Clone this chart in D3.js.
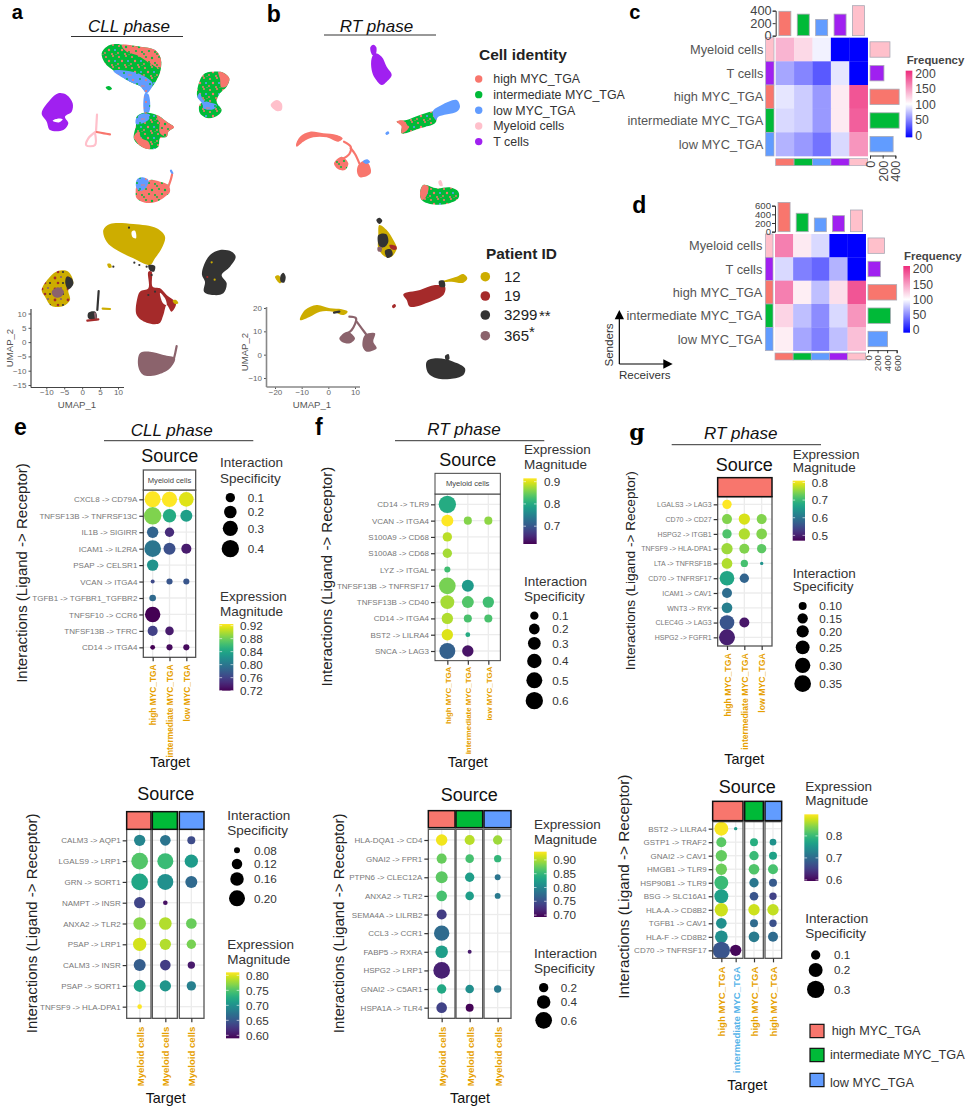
<!DOCTYPE html>
<html><head><meta charset="utf-8">
<script src="https://cdn.jsdelivr.net/npm/d3@7/dist/d3.min.js"></script>
<style>html,body{margin:0;padding:0;background:#fff}svg{display:block}text{font-family:"Liberation Sans",Arial,sans-serif}</style>
</head><body><div id="chart"></div>
<script>
// ---------- shared categories ----------
const cellTypes = ["high MYC_TGA","intermediate MYC_TGA","low MYC_TGA","Myeloid cells","T cells"];
const patientIds = ["12","19","3299","365"];
const heatColsOrder = ["high MYC_TGA","intermediate MYC_TGA","low MYC_TGA","T cells","Myeloid cells"];
const heatRowsOrder = ["Myeloid cells","T cells","high MYC_TGA","intermediate MYC_TGA","low MYC_TGA"];

// ---------- heat maps (c, d): senders in rows, receivers in columns ----------
const freqC = [[135,118,95,0,0],[65,52,35,90,0],[90,80,60,110,180],[85,80,60,110,175],[70,60,45,85,150]];
const freqD = [[160,110,85,0,0],[85,50,40,70,0],[160,108,75,115,180],[120,75,55,85,150],[108,65,50,75,130]];
const topBarsC = [390,345,260,345,480];
const sideBarsC = [315,220,460,460,365];
const topBarsD = [675,425,315,370,500];
const sideBarsD = [345,260,600,470,410];
const freqTicks = [0,50,100,150,200];

// ---------- bubble panels ----------
const e1Rows = ["CXCL8 -> CD79A","TNFSF13B -> TNFRSF13C","IL1B -> SIGIRR","ICAM1 -> IL2RA","PSAP -> CELSR1","VCAN -> ITGA4","TGFB1 -> TGFBR1_TGFBR2","TNFSF10 -> CCR6","TNFSF13B -> TFRC","CD14 -> ITGA4"];
const e1Targets = ["high MYC_TGA","intermediate MYC_TGA","low MYC_TGA"];
const e1Spec = [[.34,.31,.28],[.40,.23,.18],[.16,.10,null],[.37,.18,.12],[.16,null,null],[.0,.03,.03],[.04,null,null],[.31,null,null],[.12,.08,null],[.01,.03,.03]];
const e1Mag = [[.925,.925,.915],[.885,.845,.835],[.785,.745,null],[.80,.77,.735],[.825,null,null],[.765,.775,.775],[.79,null,null],[.72,null,null],[.76,.735,null],[.72,.725,.725]];
const e1SizeTicks = [.1,.2,.3,.4];
const e1MagTicks = [.92,.88,.84,.80,.76,.72];

const e2Rows = ["CALM3 -> AQP1","LGALS9 -> LRP1","GRN -> SORT1","NAMPT -> INSR","ANXA2 -> TLR2","PSAP -> LRP1","CALM3 -> INSR","PSAP -> SORT1","TNFSF9 -> HLA-DPA1"];
const e2Targets = ["Myeloid cells","Myeloid cells","Myeloid cells"];
const e2Spec = [[.13,.122,.095],[.212,.20,.157],[.212,.20,.139],[.13,.072,null],[.148,.148,.122],[.157,.13,.108],[.139,.122,.09],[.139,.13,.108],[.072,null,null]];
const e2Mag = [[.69,.675,.64],[.75,.74,.71],[.72,.70,.665],[.635,.60,null],[.77,.785,.76],[.795,.785,.765],[.655,.63,.605],[.715,.705,.685],[.81,null,null]];
const e2SizeTicks = [.08,.12,.16,.20];
const e2MagTicks = [.80,.75,.70,.65,.60];

const f1Rows = ["CD14 -> TLR9","VCAN -> ITGA4","S100A9 -> CD68","S100A8 -> CD68","LYZ -> ITGAL","TNFSF13B -> TNFRSF17","TNFSF13B -> CD40","CD14 -> ITGA4","BST2 -> LILRA4","SNCA -> LAG3"];
const f1Targets = ["high MYC_TGA","intermediate MYC_TGA","low MYC_TGA"];
const f1Spec = [[.6,null,null],[.26,.09,.09],[.14,null,null],[.14,null,null],[.03,null,null],[.55,.26,null],[.37,.26,.23],[.23,.09,.09],[.23,.0,null],[.5,.23,null]];
const f1Mag = [[.80,null,null],[.915,.86,.865],[.885,null,null],[.875,null,null],[.825,null,null],[.855,.78,null],[.875,.835,.825],[.88,.83,.83],[.90,.80,null],[.71,.635,null]];
const f1SizeTicks = [.1,.2,.3,.4,.5,.6];
const f1MagTicks = [.9,.8,.7];

const f2Rows = ["HLA-DQA1 -> CD4","GNAI2 -> FPR1","PTPN6 -> CLEC12A","ANXA2 -> TLR2","SEMA4A -> LILRB2","CCL3 -> CCR1","FABP5 -> RXRA","HSPG2 -> LRP1","GNAI2 -> C5AR1","HSPA1A -> TLR4"];
const f2Targets = ["Myeloid cells","Myeloid cells","Myeloid cells"];
const f2Spec = [[.29,.23,.2],[.23,.17,.13],[.32,.2,.09],[.255,.17,.09],[.23,null,null],[.51,null,null],[.35,.05,null],[.6,null,null],[.2,.17,.13],[.255,.15,null]];
const f2Mag = [[.925,.905,.895],[.875,.86,.85],[.87,.825,.785],[.86,.825,.79],[.735,null,null],[.775,null,null],[.825,.71,null],[.715,null,null],[.835,.81,.79],[.74,.695,null]];
const f2SizeTicks = [.2,.4,.6];
const f2MagTicks = [.90,.85,.80,.75,.70];

const g1Rows = ["LGALS3 -> LAG3","CD70 -> CD27","HSPG2 -> ITGB1","TNFSF9 -> HLA-DPA1","LTA -> TNFRSF1B","CD70 -> TNFRSF17","ICAM1 -> CAV1","WNT3 -> RYK","CLEC4G -> LAG3","HSPG2 -> FGFR1"];
const g1Targets = ["high MYC_TGA","intermediate MYC_TGA","low MYC_TGA"];
const g1Spec = [[.127,null,null],[.142,.175,.142],[.127,.175,.158],[.175,.142,.127],[.158,.088,.038],[.277,.127,null],[.142,null,null],[.158,null,null],[.277,.142,null],[.324,null,null]];
const g1Mag = [[.81,null,null],[.745,.79,.745],[.715,.77,.745],[.76,.745,.725],[.77,.71,.645],[.67,.58,null],[.59,null,null],[.615,null,null],[.56,.49,null],[.50,null,null]];
const g1SizeTicks = [.10,.15,.20,.25,.30,.35];
const g1MagTicks = [.8,.7,.6,.5];

const g2Rows = ["BST2 -> LILRA4","GSTP1 -> TRAF2","GNAI2 -> CAV1","HMGB1 -> TLR9","HSP90B1 -> TLR9","BSG -> SLC16A1","HLA-A -> CD8B2","TGFB1 -> CAV1","HLA-F -> CD8B2","CD70 -> TNFRSF17"];
const g2Targets = ["high MYC_TGA","intermediate MYC_TGA","high MYC_TGA","high MYC_TGA"];
const g2Spec = [[.2,.029,null,null],[.112,null,.078,.06],[.139,null,.1,.078],[.139,null,.125,.112],[.2,null,.1,.078],[.2,null,.089,.069],[.185,null,.139,.139],[.125,null,.078,.069],[.169,null,.125,.112],[.3,.139,null,null]];
const g2Mag = [[.895,.76,null,null],[.82,null,.785,.75],[.825,null,.80,.77],[.83,null,.815,.81],[.80,null,.715,.68],[.765,null,.675,.655],[.875,null,.875,.87],[.745,null,.70,.67],[.745,null,.72,.70],[.675,.60,null,null]];
const g2SizeTicks = [.1,.2,.3];
const g2MagTicks = [.8,.7,.6];

// ---------- UMAP cluster outlines (reading units: 3 per pixel) ----------
const aIdentityBlobs = [
 ["mixGreen",[[305,160],[320,140],[345,132],[375,135],[420,140],[465,150],[482,175],[482,210],[470,240],[455,262],[440,275],[420,258],[390,245],[345,215],[315,190]]],
 ["mixCoral",[[365,135],[420,140],[465,150],[482,175],[480,205],[450,190],[410,165],[380,155]]],
 ["mixBlue",[[340,212],[380,212],[420,222],[458,250],[452,268],[440,280],[420,258],[390,245]]],
 ["mixBlue",[[435,280],[445,282],[448,335],[434,340]]],
 ["mixGreen",[[410,350],[432,338],[470,345],[500,365],[522,382],[505,395],[500,410],[480,415],[475,440],[455,448],[425,440],[402,418],[408,375]]],
 ["mixCoral",[[470,345],[500,365],[522,382],[505,395],[500,410],[480,400],[478,370]]],
 ["coral",[[402,410],[415,395],[425,415],[445,425],[450,446],[425,440]]],
 ["mixBlue",[[410,352],[432,340],[450,345],[445,360],[420,372],[408,372]]],
 ["mixGreen",[[600,240],[615,220],[640,215],[670,218],[688,235],[680,260],[660,280],[650,305],[665,330],[655,345],[625,355],[600,340],[598,315],[608,305],[592,290]]],
 ["coral",[[655,216],[670,218],[688,235],[680,258],[664,262],[660,236]]],
 ["mixBlue",[[592,290],[600,280],[610,300],[650,315],[640,328],[610,325],[606,310]]],
 ["mixCoral",[[410,560],[425,562],[450,540],[480,545],[505,555],[510,575],[495,590],[470,605],[435,608],[410,595],[407,575]]],
 ["mixBlue",[[410,540],[425,532],[445,540],[440,560],[425,572],[410,565]]],
 ["purple",[[125,340],[150,300],[175,280],[200,285],[218,310],[215,335],[195,350],[205,370],[190,390],[150,390],[140,365]]],
 ["white",[[158,362],[172,356],[188,358],[178,367],[166,366]]],
 ["green",[[317,262],[326,258],[336,266],[326,271]]]
];
const aIdentityLines = [["pink",[[291,344],[288,395]]],["pink",[[286,396],[265,415],[259,436],[285,435],[285,398]]],["coral",[[290,396],[312,400],[330,403]]],["blue",[[513,512],[517,520]]],["coral",[[505,560],[512,540],[516,524]]]];
const aPatientBlobs = [
 ["gold",[[310,690],[330,672],[400,672],[470,685],[495,710],[485,745],[465,775],[450,795],[400,775],[350,750],[320,725]]],
 ["white",[[395,695],[405,692],[408,715],[398,712]]],
 ["dark",[[445,796],[465,798],[462,815],[450,812]]],
 ["brick",[[445,815],[455,815],[458,860],[480,865],[500,885],[528,910],[515,935],[500,915],[490,945],[478,970],[440,968],[410,945],[412,895],[420,875],[445,865]]],
 ["white",[[480,878],[495,895],[500,915],[488,908]]],
 ["gold",[[518,902],[528,900],[535,910],[525,912]]],
 ["mauve",[[420,1060],[450,1055],[490,1065],[525,1075],[510,1105],[470,1125],[430,1125],[415,1100]]],
 ["dark",[[610,800],[630,765],[660,750],[695,755],[707,770],[690,800],[665,825],[680,850],[670,880],[640,885],[612,875],[615,845],[606,825]]],
 ["mixGold",[[125,870],[150,830],[175,812],[205,815],[220,850],[205,870],[210,900],[190,918],[155,918],[135,890]]],
 ["dark",[[200,830],[215,835],[220,852],[205,868],[196,850]]],
 ["mauve",[[155,875],[175,862],[192,875],[180,892],[162,890]]],
 ["dark",[[265,938],[286,935],[290,958],[265,955]]],
 ["gold",[[322,792],[332,792],[335,802],[326,803]]]
];
const aPatientLines = [["dark",[[296,873],[292,930]]],["mauve",[[285,940],[288,958]]],["brick",[[262,962],[295,958]]],["gold",[[308,926],[330,927]]],["mauve",[[522,1075],[526,1058],[530,1038]]]];
const aPatientDots = [["dark",387,683],["dark",403,788],["dark",418,795],["dark",440,800],["dark",455,825],["dark",465,875],["dark",445,885],["gold",635,787],["gold",644,839],["brick",622,831],["dark",340,800]];

const bIdentityBlobs = [
 ["purple",[[335,175],[345,160],[365,170],[380,200],[395,225],[380,245],[365,255],[345,235],[335,210]]],
 ["purple",[[331,142],[340,134],[349,142],[346,165],[337,165]]],
 ["pink",[[32,315],[50,300],[65,310],[65,330],[50,333]]],
 ["mixGreen",[[410,365],[440,360],[480,345],[520,335],[530,355],[525,370],[480,385],[425,400],[425,375]]],
 ["coral",[[410,365],[430,362],[445,385],[425,400],[424,378]]],
 ["blue",[[518,335],[545,315],[590,300],[600,320],[590,335],[535,350],[528,360]]],
 ["blue",[[376,400],[384,394],[388,400],[380,405]]],
 ["coral",[[108,435],[120,410],[150,395],[190,400],[230,405],[248,415],[235,425],[200,412],[160,412],[130,425],[110,440]]],
 ["mixCoral",[[222,490],[245,470],[265,490],[255,510],[235,508]]],
 ["coral",[[295,495],[310,483],[325,490],[332,520],[300,532],[291,515]]],
 ["blue",[[308,484],[322,478],[330,486],[318,492]]],
 ["mixGreen",[[480,580],[490,555],[530,565],[570,562],[595,575],[595,595],[560,612],[510,612],[485,600]]],
 ["coral",[[480,580],[490,555],[505,560],[498,590],[486,600]]],
 ["pink",[[535,545],[542,540],[548,558],[540,558]]]
];
const bIdentityLines = [["coral",[[252,425],[272,440],[268,462],[245,478]]],["coral",[[272,445],[285,462],[298,490]]]];
const bPatientBlobs = [
 ["gold",[[358,675],[380,690],[400,720],[410,745],[395,770],[375,770],[355,745],[355,710]]],
 ["dark",[[349,660],[358,653],[367,662],[358,672]]],
 ["dark",[[355,705],[378,702],[385,725],[372,742],[358,738]]],
 ["dark",[[375,752],[392,748],[398,765],[382,774]]],
 ["brick",[[388,735],[408,738],[410,748],[395,748]]],
 ["mauve",[[353,742],[365,742],[364,755],[354,754]]],
 ["gold",[[45,830],[55,826],[66,842],[60,850]]],
 ["dark",[[62,826],[70,818],[77,830],[72,848],[62,845]]],
 ["brick",[[430,883],[480,870],[525,855],[555,860],[550,885],[510,905],[450,920],[440,900]]],
 ["gold",[[545,845],[590,830],[610,822],[622,835],[610,848],[575,845]]],
 ["dark",[[537,843],[552,842],[555,860],[540,860]]],
 ["brick",[[396,918],[404,912],[408,918],[400,925]]],
 ["gold",[[120,960],[135,930],[170,915],[210,925],[245,928],[263,935],[250,945],[220,935],[180,935],[150,950]]],
 ["mauve",[[238,1015],[262,995],[285,1015],[270,1030],[245,1025]]],
 ["mauve",[[315,1005],[345,1000],[340,1025],[350,1045],[320,1055],[308,1040]]],
 ["dark",[[500,1085],[530,1075],[580,1085],[615,1105],[610,1125],[570,1137],[530,1135],[505,1120]]],
 ["dark",[[555,1068],[565,1062],[568,1078],[558,1080]]]
];
const bPatientLines = [["dark",[[222,938],[238,935]]],["mauve",[[268,950],[288,955],[275,990],[252,1005]]],["mauve",[[290,965],[305,985],[322,1008]]]];

const umapATicksX=[-10,-5,0,5,10], umapATicksY=[10,5,0,-5,-10,-15];
const umapBTicksX=[-20,-10,0,10], umapBTicksY=[20,10,0,-10];
const keyLabels = ["high MYC_TGA","intermediate MYC_TGA","low MYC_TGA"];

// ---------- styles ----------
const cellColor = d3.scaleOrdinal(cellTypes,["#F8766D","#00BA38","#619CFF","#FFC0CB","#A020F0"]);
const patientColor = d3.scaleOrdinal(patientIds,["#CDAD00","#A52A2A","#333333","#8B636C"]);
const fills = {coral:"#F8766D",green:"#00BA38",blue:"#619CFF",pink:"#FFC0CB",purple:"#A020F0",white:"#fff",
  gold:"#CDAD00",brick:"#A52A2A",dark:"#333333",mauve:"#8B636C",
  mixGreen:"url(#mixGreen)",mixCoral:"url(#mixCoral)",mixBlue:"url(#mixBlue)",mixGold:"url(#mixGold)"};
const W=969,H=1110;
const svg=d3.select("#chart").append("svg").attr("width",W).attr("height",H).attr("viewBox",[0,0,W,H]);
const defs=svg.append("defs");
const TXT="#2a2a2a";

// speckle textures
function speckle(id,base,spots){
  const p=defs.append("pattern").attr("id",id).attr("patternUnits","userSpaceOnUse").attr("width",13).attr("height",11);
  p.append("rect").attr("width",13).attr("height",11).attr("fill",base);
  p.selectAll("circle").data(spots).join("circle").attr("cx",d=>d[0]).attr("cy",d=>d[1]).attr("r",d=>d[2]).attr("fill",d=>d[3]);
}
const C="#F8766D",G="#00BA38",B="#619CFF";
speckle("mixGreen",G,[[2,2,1.1,C],[9,1,1,C],[5,6,1.2,C],[11,6,1,B],[1,9,.9,C],[8,10,1,C],[12,11,.7,C]]);
speckle("mixCoral",C,[[3,2,1,G],[9,3,1.2,G],[6,7,1.1,G],[12,8,1,G],[1,10,.9,G]]);
speckle("mixBlue",B,[[3,3,1,C],[10,2,.9,G],[7,7,1,G],[12,9,.8,C],[1,9,.7,C]]);
speckle("mixGold","#CDAD00",[[3,3,1.4,"#A52A2A"],[9,2,1.1,"#8B636C"],[6,8,1.3,"#A52A2A"],[11,8,1.1,"#333"]]);

// text helper
function txt(x,y,s,o={}){
  const t=svg.append("text").attr("x",x).attr("y",y).text(s)
    .attr("font-size",o.size||12).attr("fill",o.color||TXT)
    .attr("text-anchor",o.anchor||"start");
  if(o.bold) t.attr("font-weight","700");
  if(o.italic) t.attr("font-style","italic");
  if(o.family) t.style("font-family",o.family);
  if(o.rotate!=null) t.attr("transform",`rotate(${o.rotate},${x},${y})`);
  return t;
}
// panel letters
[["a",11.7,18.5,20],["b",266.7,21.7,23],["c",629.3,18.5,20],["d",632.3,212.7,23],["e",14,435,23],["f",315,435,23]].forEach(d=>
  txt(d[1],d[2],d[0],{size:d[3],bold:true,color:"#000"}));
txt(629.3,440,"g",{size:22,bold:true,color:"#000",family:'"DejaVu Serif"'});
// phase titles
[["CLL phase",129,32,71,183,36.5,17],["RT phase",376.5,32,324,436,35,17],["CLL phase",171.7,436,104,253.3,440.7,17],["RT phase",464,435,395,544.3,440.7,17],["RT phase",740.7,439.3,671.7,821,444.7,17]].forEach(d=>{
  txt(d[1],d[2],d[0],{size:d[6],italic:true,anchor:"middle",color:"#111"});
  svg.append("line").attr("x1",d[3]).attr("x2",d[4]).attr("y1",d[5]).attr("y2",d[5]).attr("stroke","#333").attr("stroke-width",1);
});

// ---------- UMAP panels ----------
function umap(ox,blobs,lines,dots){
  const x=d3.scaleLinear().domain([0,3]).range([ox,ox+1]);
  const y=d3.scaleLinear().domain([0,3]).range([0,1]);
  const closed=d3.line().x(d=>x(d[0])).y(d=>y(d[1])).curve(d3.curveCatmullRomClosed.alpha(.5));
  const open=d3.line().x(d=>x(d[0])).y(d=>y(d[1])).curve(d3.curveCatmullRom);
  const g=svg.append("g");
  g.selectAll("path.b").data(blobs).join("path").attr("class","b").attr("d",d=>closed(d[1])).attr("fill",d=>fills[d[0]]);
  g.selectAll("path.l").data(lines||[]).join("path").attr("class","l").attr("d",d=>open(d[1])).attr("fill","none").attr("stroke",d=>fills[d[0]]).attr("stroke-width",2.2).attr("stroke-linecap","round");
  g.selectAll("circle").data(dots||[]).join("circle").attr("cx",d=>x(d[1])).attr("cy",d=>y(d[2])).attr("r",1.1).attr("fill",d=>fills[d[0]]);
}
umap(0,aIdentityBlobs,aIdentityLines);
umap(0,aPatientBlobs,aPatientLines,aPatientDots);
umap(260,bIdentityBlobs,bIdentityLines);
umap(260,bPatientBlobs,bPatientLines);

function umapAxes(cfg){
  const x=d3.scaleLinear().domain(cfg.xd).range(cfg.xr), y=d3.scaleLinear().domain(cfg.yd).range(cfg.yr);
  const gx=svg.append("g").attr("transform",`translate(0,${cfg.yAt})`).call(d3.axisBottom(x).tickValues(cfg.tx).tickSize(2).tickPadding(0).tickFormat(d=>String(d).replace("-","\u2212")));
  const gy=svg.append("g").attr("transform",`translate(${cfg.xAt},0)`).call(d3.axisLeft(y).tickValues(cfg.ty).tickSize(2.5).tickPadding(2).tickFormat(d=>String(d).replace("-","\u2212")));
  [gx,gy].forEach(g=>{g.select(".domain").remove();g.selectAll("text").attr("font-size",8).attr("fill","#666");g.selectAll("line").attr("stroke","#555");});
  svg.append("line").attr("x1",cfg.xAt).attr("x2",cfg.xEnd).attr("y1",cfg.yAt).attr("y2",cfg.yAt).attr("stroke",cfg.line).attr("stroke-width",cfg.w);
  svg.append("line").attr("x1",cfg.xAt).attr("x2",cfg.xAt).attr("y1",cfg.yTop).attr("y2",cfg.yAt).attr("stroke",cfg.line).attr("stroke-width",cfg.w);
  txt(cfg.lx,408,"UMAP_1",{size:9.6,anchor:"middle",color:"#555"});
  txt(cfg.ly,cfg.lyc,"UMAP_2",{size:9.6,anchor:"middle",color:"#555",rotate:-90});
}
umapAxes({xd:[-10,10],xr:[46.3,118],yd:[10,-15],yr:[313.5,385],tx:umapATicksX,ty:umapATicksY,yAt:387.5,xAt:31,xEnd:124,yTop:309,line:"#444",w:1.2,lx:77,ly:13,lyc:348});
umapAxes({xd:[-20,10],xr:[275,355],yd:[20,-10],yr:[308,378],tx:umapBTicksX,ty:umapBTicksY,yAt:387,xAt:266.5,xEnd:360,yTop:307,line:"#888",w:1.6,lx:312,ly:248,lyc:352});

// identity & patient legends
txt(479,60,"Cell identity",{size:15.5,bold:true,color:"#222"});
svg.append("g").selectAll("circle").data(cellTypes).join("circle")
  .attr("cx",478.7).attr("cy",(d,i)=>79+i*15.65).attr("r",3.7).attr("fill",d=>cellColor(d));
cellTypes.forEach((d,i)=>txt(493.3,79+i*15.65+4.3,d,{size:12.4,color:"#333"}));
txt(486,259,"Patient ID",{size:15.4,bold:true,color:"#222"});
const patientY=[276.7,296,315,335.7];
svg.append("g").selectAll("circle").data(patientIds).join("circle")
  .attr("cx",485.3).attr("cy",(d,i)=>patientY[i]).attr("r",4.8).attr("fill",d=>patientColor(d));
patientIds.forEach((d,i)=>txt(504,patientY[i]+5.3,d,{size:15,color:"#222"}));
txt(539,321,"**",{size:15,color:"#222"});
txt(529,337,"*",{size:15,color:"#222"});

// ---------- heat maps ----------
const heatColor=d3.scaleLinear().domain([0,100,200]).range(["#0000ff","#ffffff","#ee2a7b"]);
function colorBar(id,color,dom,x,w,y0,y1,ticks,tx,fs,tc,fmt,yr,noTicks){
  const n=16, grad=defs.append("linearGradient").attr("id",id).attr("x1",0).attr("x2",0).attr("y1",1).attr("y2",0);
  d3.range(n+1).forEach(i=>grad.append("stop").attr("offset",i/n).attr("stop-color",color(dom[0]+(dom[1]-dom[0])*i/n)));
  svg.append("rect").attr("x",x).attr("y",y0).attr("width",w).attr("height",y1-y0).attr("fill",`url(#${id})`);
  const sc=d3.scaleLinear().domain(dom).range(yr||[y1,y0]);
  ticks.forEach(t=>{
    const yy=sc(t);
    txt(tx,yy+fs*.36,fmt(t),{size:fs,color:tc});
    if(!noTicks){
      svg.append("line").attr("x1",x).attr("x2",x+w*.2).attr("y1",yy).attr("y2",yy).attr("stroke","#fff").attr("stroke-width",.6);
      svg.append("line").attr("x1",x+w*.8).attr("x2",x+w).attr("y1",yy).attr("y2",yy).attr("stroke","#fff").attr("stroke-width",.6);
    }
  });
}
function heat(h){
  const zx=v=>600+v/3, zy=v=>v/3;
  const x=d3.scaleBand(heatColsOrder,[zx(h.cx0),zx(h.cx1)]), y=d3.scaleBand(heatRowsOrder,[zy(h.cy0),zy(h.cy1)]);
  const g=svg.append("g");
  h.vals.forEach((row,i)=>g.append("g").selectAll("rect").data(row).join("rect")
    .attr("x",(d,j)=>x(heatColsOrder[j])).attr("y",y(heatRowsOrder[i])).attr("width",x.bandwidth()+.3).attr("height",y.bandwidth()+.3).attr("fill",d=>heatColor(d)));
  g.selectAll("rect.ra").data(heatRowsOrder).join("rect").attr("class","ra").attr("x",zx(h.ra0)).attr("width",(h.ra1-h.ra0)/3)
    .attr("y",d=>y(d)).attr("height",y.bandwidth()).attr("fill",d=>cellColor(d)).attr("stroke","#aab").attr("stroke-width",.7);
  g.selectAll("rect.ca").data(heatColsOrder).join("rect").attr("class","ca").attr("y",zy(h.ca0)).attr("height",(h.ca1-h.ca0)/3)
    .attr("x",d=>x(d)).attr("width",x.bandwidth()).attr("fill",d=>cellColor(d)).attr("stroke","#aab").attr("stroke-width",.7);
  heatRowsOrder.forEach(r=>txt(zx(h.labelX),y(r)+y.bandwidth()/2+4.5,r,{size:12.8,anchor:"end",color:"#555"}));
  // top bars
  const ty=d3.scaleLinear().domain([0,h.topMax]).range([zy(h.tb0),zy(h.tb1)]);
  g.selectAll("rect.tb").data(h.top).join("rect").attr("class","tb")
    .attr("x",(d,i)=>x(heatColsOrder[i])+x.bandwidth()/2-6).attr("width",12)
    .attr("y",d=>ty(d)).attr("height",d=>ty(0)-ty(d)).attr("fill",(d,i)=>cellColor(heatColsOrder[i])).attr("stroke","#a9a9b5").attr("stroke-width",.8);
  const ax=g.append("g").attr("transform",`translate(${zx(h.cx0)},0)`).call(d3.axisLeft(ty).tickValues(h.topTicks).tickSize(3).tickPadding(1));
  ax.selectAll("text").attr("font-size",h.tickFont).attr("fill","#444");
  ax.selectAll("line,path").attr("stroke","#333");
  // side bars
  const sx=d3.scaleLinear().domain([0,h.sideMax]).range([zx(h.sb0),zx(h.sb1)]);
  g.selectAll("rect.sb").data(h.side).join("rect").attr("class","sb")
    .attr("x",sx(0)).attr("width",d=>sx(d)-sx(0)).attr("y",(d,i)=>y(heatRowsOrder[i])+y.bandwidth()/2-7.7).attr("height",15.4)
    .attr("fill",(d,i)=>cellColor(heatRowsOrder[i])).attr("stroke","#a9a9b5").attr("stroke-width",.8);
  const ay=g.append("g").attr("transform",`translate(0,${zy(h.cy1)-.5})`).call(d3.axisBottom(sx).tickValues(h.topTicks).tickSize(3).tickPadding(1));
  ay.selectAll("line,path").attr("stroke","#333");
  ay.selectAll("text").attr("font-size",h.tickFont).attr("fill","#444").attr("text-anchor","end").attr("transform","rotate(-90)")
    .attr("x",-5).attr("y",0).attr("dx",0).attr("dy","0.35em");
  // colour legend
  txt(zx(h.lx),zy(h.ly),"Frequency",{size:11.4,bold:true,color:"#444"});
  colorBar("hm"+h.lx,heatColor,[0,200],zx(h.bx),h.bw/3,zy(h.by0),zy(h.by1),freqTicks,zx(h.btx),12.2,"#444",d=>d,[zy(h.bt0),zy(h.bt200)],true);
}
heat({vals:freqC,top:topBarsC,side:sideBarsC,cx0:527,cx1:803,cy0:113,cy1:468,ra0:497,ra1:522,ca0:476,ca1:497,labelX:490,tickFont:12.8,
  topMax:400,tb0:107,tb1:32,topTicks:[0,200,400],sideMax:400,sb0:810,sb1:886,lx:920,ly:193,bx:917,bw:20,by0:212,by1:412,btx:946,bt0:406,bt200:220});
heat({vals:freqD,top:topBarsD,side:sideBarsD,cx0:525,cx1:797,cy0:702,cy1:1052,ra0:496,ra1:519,ca0:1059,ca1:1080,labelX:487,tickFont:9.6,
  topMax:600,tb0:695,tb1:617,topTicks:[0,200,400,600],sideMax:600,sb0:804,sb1:890,lx:912,ly:780,bx:910,bw:20,by0:798,by1:998,btx:938,bt0:990,bt200:807});

// senders / receivers arrows
(function(){
  const zx=v=>600+v/3, zy=v=>v/3;
  const a=svg.append("g").attr("stroke","#000").attr("fill","#000");
  a.append("line").attr("x1",zx(58)).attr("x2",zx(58)).attr("y1",zy(1092)).attr("y2",zy(955)).attr("stroke-width",1.2);
  a.append("line").attr("x1",zx(58)).attr("x2",zx(192)).attr("y1",zy(1092)).attr("y2",zy(1092)).attr("stroke-width",1.2);
  a.append("path").attr("stroke","none").attr("d",`M${zx(58)},${zy(930)}L${zx(72)},${zy(958)}L${zx(44)},${zy(958)}Z`);
  a.append("path").attr("stroke","none").attr("d",`M${zx(218)},${zy(1092)}L${zx(190)},${zy(1078)}L${zx(190)},${zy(1106)}Z`);
  txt(zx(38),zy(1035),"Senders",{size:11.6,anchor:"middle",rotate:-90,color:"#333"});
  txt(zx(57),zy(1136),"Receivers",{size:11.6,color:"#333"});
})();

// ---------- bubble panels ----------
const ORANGE="#E69F00", SKY="#56B4E9";
function bubble(p){
  const zx=v=>p.ox+v/3, zy=v=>p.oy+v/3;
  const y=d3.scalePoint(p.rows,[zy(p.rowFirst),zy(p.rowLast)]);
  const area=d3.scaleLinear().domain(p.sizeDom).range(p.sizeR.map(r=>r*r));
  const radius=s=>Math.sqrt(Math.max(area(s),25))/3;
  const color=d3.scaleSequential(d3.interpolateViridis).domain(p.magDom);
  const g=svg.append("g");
  txt(zx(p.srcX),zy(p.srcY),"Source",{size:18,anchor:"middle",color:"#111"});
  txt(zx(p.titleX),zy(p.titleY),"Interactions (Ligand -> Receptor)",{size:p.titleSize||15,anchor:"middle",rotate:-90,color:"#222"});
  txt(zx(p.tgtX),zy(p.tgtY),"Target",{size:14.4,anchor:"middle",color:"#111"});
  p.facets.forEach((f,fi)=>{
    const cols=f.idx;
    const x=d3.scalePoint(cols,[zx(f.c0),zx(f.c1)]);
    g.append("g").selectAll("line").data(p.rows).join("line").attr("x1",zx(f.x0)).attr("x2",zx(f.x1)).attr("y1",d=>y(d)).attr("y2",d=>y(d)).attr("stroke","#ececec").attr("stroke-width",1.3);
    g.append("g").selectAll("line").data(cols).join("line").attr("x1",d=>x(d)).attr("x2",d=>x(d)).attr("y1",zy(p.py0)).attr("y2",zy(p.py1)).attr("stroke","#ececec").attr("stroke-width",1.3);
    const pts=[];
    p.rows.forEach((r,ri)=>cols.forEach(c=>{ if(p.spec[ri][c]!=null) pts.push({r,c,s:p.spec[ri][c],m:p.mag[ri][c]}); }));
    g.append("g").selectAll("circle").data(pts).join("circle").attr("cx",d=>x(d.c)).attr("cy",d=>y(d.r)).attr("r",d=>radius(d.s)).attr("fill",d=>color(d.m));
    g.append("rect").attr("x",zx(f.x0)).attr("y",zy(p.py0)).attr("width",(f.x1-f.x0)/3).attr("height",(p.py1-p.py0)/3).attr("fill","none").attr("stroke",p.frame||"#555").attr("stroke-width",p.frameW||1.3);
    g.append("rect").attr("x",zx(f.x0)).attr("y",zy(p.sy0)).attr("width",(f.x1-f.x0)/3).attr("height",(p.sy1-p.sy0)/3).attr("fill",f.fill||"#fff").attr("stroke",f.fill?"#111":(p.frame||"#555")).attr("stroke-width",f.fill?1.5:(p.frameW||1.3));
    if(!f.fill) txt((zx(f.x0)+zx(f.x1))/2,(zy(p.sy0)+zy(p.sy1))/2+2.8,"Myeloid cells",{size:7.6,anchor:"middle",color:"#444"});
    const ax=g.append("g").attr("transform",`translate(0,${zy(p.py1)})`).call(d3.axisBottom(x).tickSize(4).tickFormat(i=>p.targets[i]));
    ax.select(".domain").remove();
    ax.selectAll("line").attr("stroke","#333").attr("stroke-width",1.2);
    ax.selectAll("text").attr("font-size",p.xFont).attr("font-weight","700")
      .attr("fill",i=>p.targets[i].startsWith("intermediate")&&p.skyIntermediate?SKY:ORANGE)
      .attr("text-anchor","end").attr("transform","rotate(-90)").attr("x",-p.xPad).attr("y",0).attr("dy","0.35em");
    if(fi===0){
      const ay=g.append("g").attr("transform",`translate(${zx(f.x0)},0)`).call(d3.axisLeft(y).tickSize(4).tickPadding(p.yPad||2));
      ay.select(".domain").remove();
      ay.selectAll("line").attr("stroke","#333").attr("stroke-width",1.2);
      ay.selectAll("text").attr("font-size",p.yFont||8).attr("fill","#777");
    }
  });
  const L=p.sizeLeg;
  txt(zx(L.x),zy(L.t1),"Interaction",{size:13.5,color:"#333"});
  txt(zx(L.x),zy(L.t2),"Specificity",{size:13.5,color:"#333"});
  p.sizeTicks.forEach((s,i)=>{
    svg.append("circle").attr("cx",zx(L.dx)).attr("cy",zy(L.ys[i])).attr("r",radius(s)).attr("fill","#000");
    txt(zx(L.lx),zy(L.ys[i])+4.2,L.fmt(s),{size:11.7,color:"#333"});
  });
  const M=p.magLeg;
  txt(zx(M.x),zy(M.t1),"Expression",{size:13.5,color:"#333"});
  txt(zx(M.x),zy(M.t2),"Magnitude",{size:13.5,color:"#333"});
  colorBar("mag"+p.id,color,p.magDom,zx(M.bx),M.bw/3,zy(M.y0),zy(M.y1),p.magTicks,zx(M.lx),11.7,"#333",M.fmt);
}
const f2d=d=>d.toFixed(2), f1d=d=>d.toFixed(1);
bubble({id:"e1",ox:0,oy:410,rows:e1Rows,targets:e1Targets,spec:e1Spec,mag:e1Mag,rowFirst:268,rowLast:712,xFont:8.4,
  sizeDom:[.1,.4],sizeR:[14,26],magDom:[.72,.925],py0:240,py1:742,sy0:180,sy1:240,srcX:509,srcY:155,titleX:80,titleY:489,tgtX:510,tgtY:1072,xPad:7,
  facets:[{idx:[0,1,2],c0:458,c1:559,x0:430,x1:587}],
  sizeTicks:e1SizeTicks,sizeLeg:{x:660,t1:172,t2:218,dx:691,lx:743,ys:[263,306,355,416],fmt:f1d},
  magTicks:e1MagTicks,magLeg:{x:660,t1:572,t2:617,bx:658,bw:42,y0:642,y1:842,lx:720,fmt:f2d}});
bubble({id:"e2",ox:0,oy:770,rows:e2Rows,targets:e2Targets,spec:e2Spec,mag:e2Mag,rowFirst:211,rowLast:710,xFont:9.6,
  sizeDom:[.08,.2],sizeR:[9,24],magDom:[.59,.81],py0:178,py1:745,sy0:125,sy1:178,srcX:497,srcY:90,titleX:110,titleY:460,tgtX:497,tgtY:1000,xPad:8.3,
  facets:[{idx:[0],c0:419,c1:419,x0:380,x1:453,fill:"#F8766D"},{idx:[1],c0:496,c1:496,x0:457,x1:532,fill:"#00BA38"},{idx:[2],c0:574,c1:574,x0:538,x1:612,fill:"#619CFF"}],
  sizeTicks:e2SizeTicks,sizeLeg:{x:682,t1:150,t2:194,dx:711,lx:762,ys:[241,282,327,385],fmt:f2d},
  magTicks:e2MagTicks,magLeg:{x:682,t1:537,t2:581,bx:678,bw:40,y0:607,y1:805,lx:738,fmt:f2d}});
bubble({id:"f1",ox:310,oy:410,rows:f1Rows,targets:f1Targets,spec:f1Spec,mag:f1Mag,rowFirst:283,rowLast:723,xFont:7.9,
  sizeDom:[.1,.6],sizeR:[12.5,26],magDom:[.62,.915],py0:252,py1:752,sy0:190,sy1:252,srcX:473,srcY:168,titleX:67,titleY:500,tgtX:473,tgtY:1072,xPad:6,frame:"#444",frameW:1,
  facets:[{idx:[0,1,2],c0:412,c1:535,x0:375,x1:571}],
  sizeTicks:f1SizeTicks,sizeLeg:{x:642,t1:527,t2:572,dx:673,lx:727,ys:[617,657,700,753,811,872],fmt:f1d},
  magTicks:f1MagTicks,magLeg:{x:642,t1:133,t2:178,bx:640,bw:40,y0:205,y1:402,lx:702,fmt:f1d}});
bubble({id:"f2",ox:310,oy:770,rows:f2Rows,targets:f2Targets,spec:f2Spec,mag:f2Mag,rowFirst:210,rowLast:713,xFont:9.6,
  sizeDom:[.2,.6],sizeR:[14,25],magDom:[.693,.93],py0:178,py1:745,sy0:122,sy1:173,srcX:478,srcY:92,titleX:102,titleY:460,tgtX:480,tgtY:1000,xPad:8.3,
  facets:[{idx:[0],c0:395,c1:395,x0:355,x1:435,fill:"#F8766D"},{idx:[1],c0:479,c1:479,x0:438,x1:518,fill:"#00BA38"},{idx:[2],c0:563,c1:563,x0:522,x1:603,fill:"#619CFF"}],
  sizeTicks:f2SizeTicks,sizeLeg:{x:672,t1:563,t2:608,dx:701,lx:752,ys:[653,696,751],fmt:f1d},
  magTicks:f2MagTicks,magLeg:{x:672,t1:177,t2:221,bx:672,bw:38,y0:245,y1:441,lx:730,fmt:f2d}});
bubble({id:"g1",ox:610,oy:410,rows:g1Rows,targets:g1Targets,spec:g1Spec,mag:g1Mag,rowFirst:283,rowLast:682,xFont:8.7,
  sizeDom:[.1,.35],sizeR:[12,25],magDom:[.47,.81],py0:260,py1:708,sy0:203,sy1:260,srcX:403,srcY:183,titleX:75,titleY:482,tgtX:403,tgtY:1062,xPad:7.3,titleSize:13.6,yFont:7,
  facets:[{idx:[0,1,2],c0:351,c1:455,x0:323,x1:486,fill:"#F8766D"}],
  sizeTicks:g1SizeTicks,sizeLeg:{x:548,t1:503,t2:544,dx:578,lx:628,ys:[588,625,664,712,766,821],fmt:f2d},
  magTicks:g1MagTicks,magLeg:{x:548,t1:146,t2:187,bx:548,bw:37,y0:212,y1:392,lx:605,fmt:f1d}});
bubble({id:"g2",ox:610,oy:770,rows:g2Rows,targets:g2Targets,spec:g2Spec,mag:g2Mag,rowFirst:176,rowLast:541,skyIntermediate:true,xFont:9.6,
  sizeDom:[.1,.3],sizeR:[14,26],magDom:[.595,.898],py0:155,py1:565,sy0:94,sy1:152,srcX:412,srcY:68,titleX:56,titleY:350,tgtX:412,tgtY:960,xPad:8.3,titleSize:15.3,
  facets:[{idx:[0,1],c0:334,c1:377,x0:308,x1:399,fill:"#F8766D"},{idx:[2],c0:432,c1:432,x0:404,x1:460,fill:"#00BA38"},{idx:[3],c0:489,c1:489,x0:465,x1:515,fill:"#619CFF"}],
  sizeTicks:g2SizeTicks,sizeLeg:{x:586,t1:460,t2:505,dx:617,lx:672,ys:[555,600,658],fmt:f1d},
  magTicks:g2MagTicks,magLeg:{x:586,t1:62,t2:106,bx:583,bw:42,y0:133,y1:333,lx:648,fmt:f1d}});

// key at bottom right
(function(){
  const zx=v=>610+v/3, zy=v=>770+v/3;
  const ys=[763,835,910], tx=[665,660,660], ty=[795,867,950];
  keyLabels.forEach((d,i)=>{
    svg.append("rect").attr("x",zx(600)).attr("y",zy(ys[i])).attr("width",14).attr("height",13.3).attr("fill",cellColor(d)).attr("stroke","#111").attr("stroke-width",1.2);
    txt(zx(tx[i]),zy(ty[i]),d,{size:12.7,color:"#333"});
  });
})();
</script></body></html>
